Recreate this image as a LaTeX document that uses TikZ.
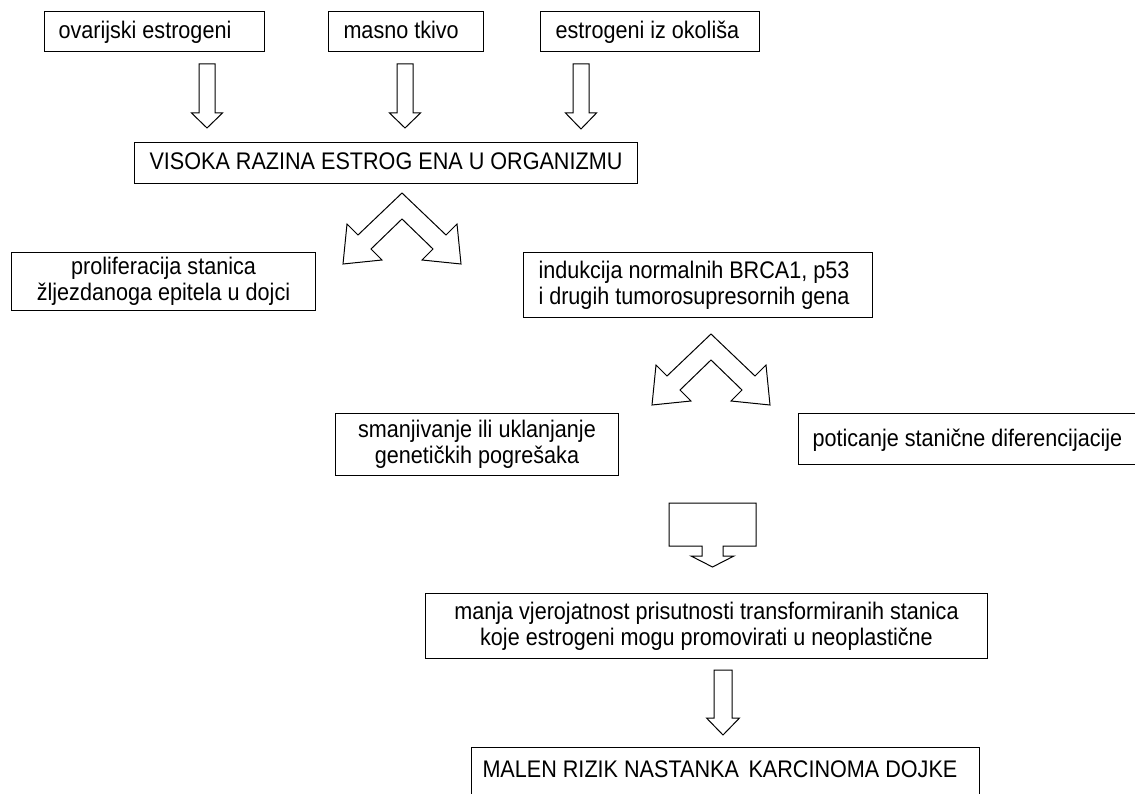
\documentclass[tikz,border=0pt]{standalone}
\usepackage{fontspec}
\setmainfont{Liberation Sans}[FakeStretch=0.9]
\newcommand{\barrow}[5]{% cx, shaft top, shaft bottom, tip, shaft half width
  \draw ({#1-#5},#2) -- ({#1+#5},#2) -- ({#1+#5},#3) -- ({#1+#5+7.5},#3) -- (#1,#4) -- ({#1-#5-7.5},#3) -- ({#1-#5},#3) -- cycle;}
\newcommand{\chevarrow}[2]{%
  \begin{scope}[shift={(#1,#2)}]
    \draw (0,0) -- (-44,42) -- (-55,31) -- (-59,71) -- (-20,67) -- (-31,56) -- (0,26)
      -- (31,56) -- (20,67) -- (59,71) -- (55,31) -- (44,42) -- cycle;
  \end{scope}}
\begin{document}
\begin{tikzpicture}[x=1pt,y=-1pt,line width=1pt,line join=miter,
  every node/.style={font=\fontsize{24}{26}\selectfont},
  frame/.style={draw,anchor=north west,inner sep=0pt},
  txt/.style={anchor=west,inner sep=0pt,text height=18pt,text depth=4pt},
  ctxt/.style={inner sep=0pt,align=center}]
\useasboundingbox (0,0) rectangle (1135,794);
\fill[white] (0,0) rectangle (1135,794);
\clip (0,0) rectangle (1135,794);
% top sources
\node[frame,minimum width=220pt,minimum height=40pt] (b1) at (44,11) {};
\node[txt] (t1) at ([xshift=14pt]b1.west) {ovarijski estrogeni};
\node[frame,minimum width=155pt,minimum height=40pt] (b2) at (328,11) {};
\node[txt] (t2) at ([xshift=15pt]b2.west) {masno tkivo};
\node[frame,minimum width=219pt,minimum height=40pt] (b3) at (540,11) {};
\node[txt] (t3) at ([xshift=15pt]b3.west) {estrogeni iz okoliša};
\barrow{207}{64}{113}{128}{8}
\barrow{405}{64}{113}{128}{8}
\barrow{581}{64}{113}{129}{8}
% main
\node[frame,minimum width=503pt,minimum height=41pt] (vis) at (134,142) {};
\node[txt] (tvis) at ([xshift=15pt]vis.west) {VISOKA RAZINA ESTROG ENA U ORGANIZMU};
\chevarrow{402}{193}
\node[frame,minimum width=304pt,minimum height=58pt] (prol) at (11,252) {};
\node[ctxt] (tprol) at (prol.center) {proliferacija stanica\\žljezdanoga epitela u dojci};
\node[frame,minimum width=349pt,minimum height=65pt] (ind) at (523,252) {};
\node[anchor=west,inner sep=0pt,align=left] (tind) at ([xshift=15pt]ind.west) {indukcija normalnih BRCA1, p53\\i drugih tumorosupresornih gena};
\chevarrow{711}{334}
\node[frame,minimum width=283pt,minimum height=62pt] (sman) at (335,413) {};
\node[ctxt] (tsman) at (sman.center) {smanjivanje ili uklanjanje\\genetičkih pogrešaka};
\node[frame,minimum width=400pt,minimum height=51pt] (pot) at (798,413) {};
\node[txt] (tpot) at ([xshift=14pt]pot.west) {poticanje stanične diferencijacije};
% callout arrow
\draw (669,503) -- (756,503) -- (756,546) -- (723,546) -- (723,556) -- (734,556) -- (712.5,567)
  -- (691,556) -- (702,556) -- (702,546) -- (669,546) -- cycle;
\node[frame,minimum width=562pt,minimum height=65pt] (manja) at (425,593) {};
\node[ctxt] (tmanja) at (manja.center) {manja vjerojatnost prisutnosti transformiranih stanica\\koje estrogeni mogu promovirati u neoplastične};
\barrow{723}{670}{718}{735}{9}
\draw (471,860) -- (471,747) -- (979,747) -- (979,860);
\node[anchor=base west,inner sep=0pt] (malen) at (482,777) {MALEN RIZIK NASTANKA\hspace{0.15em} KARCINOMA DOJKE};
\end{tikzpicture}
\end{document}
